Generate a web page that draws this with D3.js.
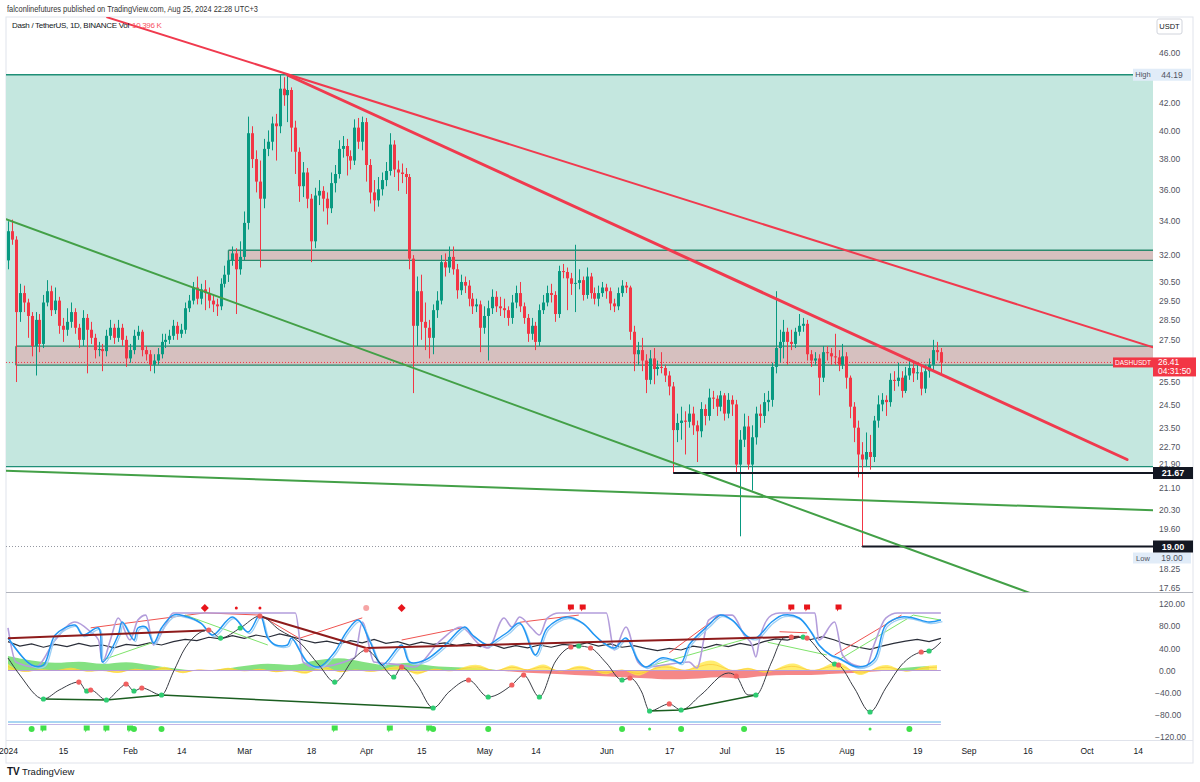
<!DOCTYPE html>
<html><head><meta charset="utf-8">
<script src="https://cdn.jsdelivr.net/npm/d3@7"></script>
<style>
html,body{margin:0;padding:0;background:#fff;}
svg{display:block;font-family:"Liberation Sans",Arial,sans-serif;}
</style></head><body>
<svg id="c" width="1200" height="782"></svg>
<script>
// ---------------- DATA ----------------
// daily candles, day index 0 = 2024-01-01
const firstOpen = 31.7;
const closes = [
33.4,32.9,28.9,29.9,29.4,28.7,27.2,28.5,27.3,29.4,
30.0,29.0,29.5,28.2,28.0,28.4,28.9,28.1,27.5,28.6,
28.0,27.6,27.0,27.05,26.95,27.7,28.1,27.6,28.1,27.5,
26.6,27.0,27.7,27.9,27.0,26.8,26.3,26.5,26.8,27.4,
27.5,27.7,28.2,27.8,28.0,29.1,29.5,30.2,29.6,30.1,
29.9,29.5,29.3,29.2,30.4,30.9,31.7,32.1,31.2,31.9,
33.9,39.8,38.0,36.5,35.4,38.7,39.2,40.5,40.3,43.1,
42.6,43.0,40.2,38.5,36.2,37.1,35.4,32.8,35.6,35.9,
35.4,34.8,36.4,37.0,38.7,38.9,38.2,37.9,40.2,39.2,
40.6,37.6,35.8,35.3,36.0,36.6,37.2,39.0,37.3,37.1,
37.0,36.8,31.8,28.2,30.0,28.4,28.1,27.6,29.0,29.5,
31.6,31.3,31.9,31.2,30.05,30.5,30.3,29.6,29.2,29.3,
28.1,28.7,29.1,29.7,29.2,29.1,29.0,28.6,29.4,29.9,
29.2,28.6,27.8,28.2,27.4,29.0,29.4,29.9,29.8,28.8,
31.1,31.05,30.7,30.4,30.45,30.6,29.8,30.8,29.9,29.6,
29.9,30.2,30.0,29.35,29.2,29.9,30.3,30.2,27.9,26.8,
27.0,26.5,25.6,26.6,26.1,26.2,26.15,25.8,25.3,23.4,
23.7,23.8,23.75,24.1,23.6,23.35,24.3,24.0,24.8,24.75,
24.4,24.9,24.1,24.7,24.5,22.0,23.0,23.55,22.0,23.1,
24.1,24.0,24.6,24.7,26.2,27.1,27.4,27.9,27.4,27.3,
27.9,28.2,28.3,26.8,26.5,26.6,25.7,26.9,26.85,26.7,
26.65,26.3,26.7,25.7,24.4,23.5,22.4,22.2,22.5,22.3,
23.8,24.5,24.7,24.6,25.6,25.55,25.7,25.1,25.8,26.15,
25.9,25.95,25.2,26.0,26.3,27.0,26.9,26.41];
const highs = [
34.0,34.1,33.1,30.4,30.3,29.6,28.9,28.9,28.8,29.8,
30.6,30.3,30.2,29.7,28.6,29.1,29.4,29.1,28.3,29.0,
28.8,28.4,27.8,27.4,27.3,28.0,28.5,28.3,28.5,28.3,
27.7,27.3,28.0,28.2,28.0,27.2,27.0,26.8,27.1,27.8,
27.8,28.0,28.5,28.4,28.3,29.4,29.8,30.5,30.8,30.4,
30.6,30.2,29.8,29.6,30.7,31.4,32.0,32.5,32.4,32.8,
34.6,41.0,40.3,38.6,37.9,39.4,40.0,41.0,41.2,44.19,
44.0,44.15,43.2,40.7,38.8,37.8,37.4,35.7,36.1,36.6,
36.2,35.8,37.1,37.6,39.3,39.6,39.4,38.6,40.8,40.9,
41.0,40.9,38.0,36.6,36.8,37.1,37.8,39.8,39.3,37.9,
37.7,37.4,37.0,32.0,30.8,30.9,29.4,28.5,29.3,30.0,
32.0,32.1,32.5,32.5,31.5,30.9,30.8,30.6,29.9,29.6,
29.5,29.2,29.5,30.1,30.0,29.7,29.6,29.2,29.8,30.3,
30.5,29.4,28.8,28.6,28.4,29.3,29.8,30.3,30.4,30.0,
31.4,31.5,31.3,31.0,32.6,31.2,30.8,31.3,31.0,30.2,
30.3,30.5,30.4,30.2,29.6,30.2,30.6,30.5,30.3,28.2,
27.4,27.6,26.8,27.0,27.1,26.5,26.9,26.3,26.0,25.5,
24.1,24.4,24.2,24.5,24.4,23.8,24.6,24.5,25.2,25.1,
24.9,25.1,25.0,25.0,24.9,24.7,23.4,24.1,24.0,23.6,
24.4,24.5,25.0,25.1,26.4,30.0,28.0,28.5,28.1,28.0,
28.1,28.8,28.6,28.5,27.0,26.9,26.8,27.2,27.2,27.1,
27.8,27.0,27.3,26.9,25.8,24.6,23.8,22.9,23.3,23.2,
24.0,24.9,25.0,24.9,25.9,26.0,26.4,26.0,26.2,26.6,
26.4,26.3,26.2,26.3,26.6,27.5,27.4,27.1];
const lows = [
31.2,32.6,25.5,28.4,28.9,27.6,26.7,25.8,26.9,27.1,
29.2,28.7,28.8,27.8,27.4,27.7,28.1,27.8,27.1,27.2,
25.9,27.3,26.6,26.7,26.0,26.7,27.5,27.3,27.4,27.2,
26.2,26.4,26.8,27.5,26.7,26.5,26.0,25.9,26.3,26.6,
27.1,27.3,27.5,27.5,27.6,27.8,28.9,29.3,29.3,29.3,
29.0,29.1,28.9,28.7,29.0,30.2,30.5,31.4,28.8,30.9,
31.7,33.5,37.4,35.8,31.3,34.8,38.2,38.6,37.9,39.8,
41.8,40.6,38.5,37.0,35.2,35.5,34.8,31.6,32.4,35.0,
34.6,33.8,34.5,35.8,36.7,38.1,36.9,37.3,37.6,38.7,
38.6,36.5,35.1,34.6,34.9,35.6,36.2,36.9,36.8,35.9,
36.4,35.7,31.2,25.0,27.2,27.5,27.0,26.6,26.8,28.6,
29.3,30.8,31.0,30.9,29.6,29.8,29.9,29.2,28.8,28.9,
26.9,27.8,26.5,28.8,28.9,28.7,28.6,28.2,28.3,29.1,
28.9,28.3,27.4,27.5,27.0,27.2,28.8,29.2,29.4,28.4,
28.6,30.7,29.0,29.8,28.9,30.1,29.5,29.6,29.6,29.3,
29.2,29.7,29.6,29.0,28.9,29.0,29.7,29.9,27.5,26.0,
26.3,26.0,25.0,25.4,25.4,25.8,25.9,25.5,24.9,21.67,
22.9,23.0,22.4,23.5,23.2,22.1,23.1,23.6,23.8,24.3,
24.0,24.2,23.8,23.9,24.0,21.67,19.35,22.7,21.8,21.0,
22.8,23.5,23.7,24.2,24.4,25.9,26.4,26.6,26.3,27.0,
27.1,27.7,27.9,26.5,26.2,26.3,24.9,25.5,26.5,26.3,
26.3,26.0,26.1,25.2,23.9,22.9,21.5,19.0,21.9,21.8,
22.1,23.5,24.2,24.0,24.4,25.1,25.3,24.8,25.0,25.6,
25.5,25.6,24.9,25.0,25.7,26.0,26.5,25.9];

const lastPrice = 26.41, highPrice = 44.19, lowPrice = 19.00;
// zones: start day, top price, bottom price
const zoneStart = [-1, 2, 56];
const zoneTop = [44.19, 27.19, 32.28];
const zoneBottom = [21.92, 26.28, 31.70];
// trend lines: [startDay, startPrice, endDay, endPrice]
const trendRedThin  = [25.2, 48.97, 290.9, 27.14];
const trendRedThick = [71.1, 44.15, 284.3, 22.2];
const trendGreenSteep = [-0.5, 34.12, 259.7, 17.48];
const trendGreenFlat  = [-0.5, 21.76, 290.9, 20.27];
// horizontal level rays: start day, price
const rayStart = [169, 217];
const rayPrice = [21.67, 19.00];

const priceTicks = [46,42,40,38,36,34,32,30.5,29.5,28.5,27.5,25.5,24.5,23.5,22.7,21.9,21.1,20.3,19.6,18.25,17.65];
const oscTicks = [120,80,40,0,-40,-80,-120];
const timeTickDates = ["2024-01-01","2024-01-15","2024-02-01","2024-02-14","2024-03-01","2024-03-18","2024-04-01","2024-04-15","2024-05-01","2024-05-14","2024-06-01","2024-06-17","2024-07-01","2024-07-15","2024-08-01","2024-08-19","2024-09-01","2024-09-16","2024-10-01","2024-10-14"];
const timeTickLabels = ["2024","15","Feb","14","Mar","18","Apr","15","May","14","Jun","17","Jul","15","Aug","19","Sep","16","Oct","14"];

// indicator series (day index, value)
const blueI = [0,6,9,12,17,19,23,24,28,29,32,33,35,37,39,42,45,49,52,57,61,64,66,68,71,72,76,79,83,86,89,92,95,100,102,106,111,116,118,122,124,127,130,134,137,142,146,149,151,154,157,160,162,166,169,171,173,178,181,184,188,190,194,197,201,204,206,209,211,216,220,223,227,230,234,237];
const blueV = [58.6,9.9,9.9,64,82,64,76.7,15.3,64,87.5,55,76.7,78.5,49.6,76.7,100,98,85.7,64,96.5,69.5,100,58.6,46,46,58.6,15.3,6.3,33.4,69.5,91,51.4,9.9,46,15.3,18.9,46,78.5,64,46,55,69.5,85.7,28,76.7,96.5,85.7,64,51.4,40.6,58.6,18.9,6.3,22.6,18.9,13.5,46,82,100,91,60.4,58.6,87.5,100,94.7,69.5,46,28,22.6,6.3,18.9,82,96.5,94.7,87.5,91];
const purpleI = [0,2,7,12,17,21,23,24,26,28,31,33,35,37,40,42,73,75,78,88,90,93,100,103,110,115,120,122,126,128,130,133,135,137,140,152,154,157,160,162,173,175,178,181,184,187,189,190,191,194,196,205,206,210,212,215,218,220,223,226,237];
const purpleV = [76.7,15.3,6.3,55,87.5,69.5,55,15.3,55,94.7,55,91,100,46,82,103.8,103.8,15.3,6.3,22.6,87.5,15.3,9.9,6.3,55,78.5,46,40.6,94.7,78.5,96.5,76.7,64,94.7,103.8,103.8,37,78.5,15.3,6.3,15.3,4.5,91,100,100,64,46,24.4,58.6,100,103.8,103.8,55,87.5,28,9.9,6.3,46,94.7,103.8,103.8];
const blackI = d3.range(0, 238, 3);
const blackV = [52,44,48,42,47,43,49,44,46,41,47,45,50,46,52,56,54,60,57,63,58,64,60,66,61,55,50,53,48,54,50,56,49,52,46,51,47,50,45,49,43,47,40,45,41,46,42,47,45,50,44,48,42,45,40,36,40,37,44,41,47,43,49,45,52,57,55,60,56,61,55,47,42,38,44,49,53,56,52,58];
// smooth oscillator with pivot marks (g = green dot, r = red dot)
const oscI = [0,3,9,13,18,20,21,25,28,30,32,34,39,42,45,51,54,59,64,69,74,79,83,88,91,95,98,100,104,108,112,117,122,128,131,135,139,143,145,148,152,156,158,161,163,168,171,176,183,185,188,190,194,197,199,202,203,207,210,211,215,219,223,227,232,234,237];
const oscV = [22.6,-8.1,-51.4,-35.2,-20.8,-37,-35.2,-53.2,-35.2,-24.4,-37,-31.6,-44.2,-2.7,40.6,73.1,58.6,76.7,98.3,73.1,51.4,9.9,-20.8,22.6,37,9.9,-11.7,6.3,-26.2,-67.7,-38.8,-17.1,-47.8,-26.2,-8.1,-47.8,15.3,42.4,44.2,40.6,13.5,-17.1,-13.5,-38.8,-73.1,-60.4,-71.3,-44.2,-4.5,-9.9,-44.2,-44.2,15.3,58.6,60.4,60.4,58.6,28,11.7,9.9,-31.6,-74.9,-31.6,9.9,33.4,35.2,51.4];
const oscMark = ["","","g","","r","g","r","g","","r","g","r","g","","","r","g","g","r","","","","g","","r","","g","r","","g","","r","g","r","r","g","","r","g","r","","g","r","","g","r","g","","","r","","g","","","r","g","r","","g","r","","g","","","r","g",""];
const lowLinkA = [9,25,39,108];
const lowLinkB = [163,171,190];
// trend segments on the oscillator: [d1,v1,d2,v2]
const darkRedSegs = [[0,58,50,72],[64,98,91,40.6],[91,40.6,201,61]];
const lightRedSegs = [[21,77,50,104],[50,104,64,100],[64,100,74,58],[74,58,90,95],[100,55,116,78],[130,87,145,100],[168,32,181,100],[196,70,203,68],[210,28,227,100]];
const lightGreenSegs = [[24,19,37,51],[45,100,66,46],[162,6,188,58],[193,51,208,28],[211,19,230,100],[230,100,237,91]];
// trend fill (every 6 days)
const fillI = d3.range(0, 235, 6);
const fillV = [26,18,14,16,12,15,10,4,0,2,8,12,10,18,22,16,10,14,8,6,4,-1,-4,-6,-8,-10,-12,-14,-16,-15,-12,-14,-10,-8,-8,-6,-4,-1,5,8];
// yellow wave (every 4 days)
const yellowI = d3.range(0, 237, 4);
const yellowV = [12,-8,6,-4,10,-6,4,-10,8,-5,14,-12,6,-4,10,-6,8,-8,5,-14,18,-10,6,-6,4,12,-16,10,-6,8,14,-8,18,-6,20,-10,12,6,-14,10,-18,8,14,-6,16,22,-8,12,-10,6,18,-6,10,20,-18,6,14,-8,8,10];
// signal markers
const topMarkI = [50,58,64,91,100,143,146,199,203,211];
const topMarkT = ["diamond","dot","dot","circle","diamond","flag","flag","flag","flag","flag"];
const botMarkI = [6,9,20,25,31,32,39,83,97,107,108,122,156,163,171,187,219,229];
const botMarkT = ["circle","flag","flag","flag","flag","circle","circle","flag","flag","flag","circle","circle","circle","dot","circle","circle","dot","circle"];

// ---------------- DRAW ----------------
const svg = d3.select('#c');
const DAY = 864e5, T0 = Date.UTC(2024,0,1);
const dt = i => new Date(T0 + i*DAY);
const x = d3.scaleUtc().domain([new Date(Date.UTC(2024,0,1)), new Date(Date.UTC(2024,9,14))]).range([8,1137.7]);
const y = d3.scaleLog().domain([46,17.65]).range([52.3,587.7]);
const yo = d3.scaleLinear().domain([-120,120]).range([737,604]);
const X = i => x(dt(i));

const PL=6, PR=1153, PT=17, PB=592, IT=594, IB=740, AR=1193;
const UP='#089981', DN='#f23645', RED='#f03a4e', GRN='#43a047';

svg.append('rect').attr('width',1200).attr('height',782).attr('fill','#fff');
const defs = svg.append('defs');
defs.append('clipPath').attr('id','pclip').append('rect').attr('x',PL).attr('y',PT).attr('width',PR-PL).attr('height',PB-PT);
defs.append('clipPath').attr('id','iclip').append('rect').attr('x',PL).attr('y',IT).attr('width',PR-PL).attr('height',IB-IT);
defs.append('clipPath').attr('id','tclip').append('rect').attr('x',PL-6).attr('y',IB).attr('width',AR-PL+6).attr('height',24);

// header
svg.append('text').attr('x',7).attr('y',12).attr('font-size',9.5).attr('fill','#333')
  .attr('textLength',251).attr('lengthAdjust','spacingAndGlyphs')
  .text('falconlinefutures published on TradingView.com, Aug 25, 2024 22:28 UTC+3');

// frame
svg.append('rect').attr('x',PL).attr('y',PT).attr('width',AR-PL).attr('height',763-PT)
  .attr('fill','none').attr('stroke','#e0e3eb');

const pg = svg.append('g').attr('clip-path','url(#pclip)');
// zones
const zoneFill = ['#c4e7df','#d6c0bf','#d6c0bf'];
const zoneStroke = ['#1f8f77','#2a8a6e','#2a8a6e'];
zoneStart.forEach((d,k)=>{
  const x0 = X(d), y0 = y(zoneTop[k]), y1 = y(zoneBottom[k]);
  pg.append('rect').attr('x',x0).attr('y',y0).attr('width',PR-x0).attr('height',y1-y0).attr('fill',zoneFill[k]);
  pg.append('line').attr('x1',x0).attr('x2',PR).attr('y1',y0).attr('y2',y0).attr('stroke',zoneStroke[k]).attr('stroke-width',1.3);
  pg.append('line').attr('x1',x0).attr('x2',PR).attr('y1',y1).attr('y2',y1).attr('stroke',zoneStroke[k]).attr('stroke-width',1.3);
  if(k>0) pg.append('line').attr('x1',x0).attr('x2',x0).attr('y1',y0).attr('y2',y1).attr('stroke',zoneStroke[k]).attr('stroke-width',1.3);
});
// dotted low line & last price line
pg.append('line').attr('x1',PL).attr('x2',X(217)).attr('y1',y(lowPrice)).attr('y2',y(lowPrice))
  .attr('stroke','#9598a1').attr('stroke-dasharray','1,2');
pg.append('line').attr('x1',PL).attr('x2',1112).attr('y1',y(lastPrice)).attr('y2',y(lastPrice))
  .attr('stroke',DN).attr('stroke-dasharray','1,2');

// candles
const candles = closes.map((c,i)=>({i, o: i? closes[i-1] : firstOpen, c, h: highs[i], l: lows[i]}));
pg.append('g').selectAll('line').data(candles).join('line')
  .attr('x1',d=>Math.round(X(d.i))+0.5).attr('x2',d=>Math.round(X(d.i))+0.5)
  .attr('y1',d=>y(d.h)).attr('y2',d=>y(d.l))
  .attr('stroke',d=>d.c>=d.o?UP:DN).attr('stroke-width',1);
pg.append('g').selectAll('rect').data(candles).join('rect')
  .attr('x',d=>Math.round(X(d.i))-1).attr('width',3)
  .attr('y',d=>y(Math.max(d.o,d.c)))
  .attr('height',d=>Math.max(1,Math.abs(y(d.o)-y(d.c))))
  .attr('fill',d=>d.c>=d.o?UP:DN);

// horizontal rays
rayStart.forEach((d,k)=>{
  pg.append('line').attr('x1',X(d)).attr('x2',PR).attr('y1',y(rayPrice[k])).attr('y2',y(rayPrice[k]))
    .attr('stroke','#131722').attr('stroke-width',2);
});
// trend lines
function tl(a, color, w){
  pg.append('line').attr('x1',X(a[0])).attr('y1',y(a[1])).attr('x2',X(a[2])).attr('y2',y(a[3]))
    .attr('stroke',color).attr('stroke-width',w).attr('stroke-linecap','round');
}
tl(trendGreenSteep, GRN, 2);
tl(trendGreenFlat, GRN, 2);
tl(trendRedThin, RED, 2);
tl(trendRedThick, RED, 3);

// legend (natural widths, second part placed after the first)
const lg1 = svg.append('text').attr('x',12).attr('y',28).attr('font-size',8).attr('letter-spacing','-0.3px')
  .attr('fill','#131722').text('Dash / TetherUS, 1D, BINANCE  Vol');
const lgW = lg1.node().getComputedTextLength();
svg.append('text').attr('x',12 + lgW + 3).attr('y',28).attr('font-size',8).attr('letter-spacing','-0.3px')
  .attr('fill','#f7525f').text('10.396 K');

// price axis
const pax = svg.append('g').attr('transform',`translate(${PR},0)`)
  .call(d3.axisRight(y).tickValues(priceTicks).tickFormat(d3.format('.2f')).tickSize(0).tickPadding(6));
pax.select('.domain').remove();
pax.selectAll('text').attr('font-size',8.5).attr('fill','#50535e').attr('font-family','"Liberation Sans",Arial,sans-serif')
  .attr('dy', v => v===21.9 ? '-0.05em' : '0.32em');

// special labels
function box(x0,yc,w,h,fill,txt,tc,fs,bold){
  svg.append('rect').attr('x',x0).attr('y',yc-h/2).attr('width',w).attr('height',h).attr('fill',fill);
  const t = svg.append('text').attr('x',x0+w/2).attr('y',yc).attr('dy','0.35em').attr('text-anchor','middle')
    .attr('font-size',fs).attr('fill',tc).attr('font-weight',bold?'bold':'normal').text(txt);
  return t;
}
box(1133,y(highPrice),20,12,'#e1ecf8','High','#50535e',7.5);
box(PR,y(highPrice),38,12,'#e1ecf8',d3.format('.2f')(highPrice),'#50535e',8.5);
box(1133,y(lowPrice)+11.5,20,11,'#e1ecf8','Low','#50535e',7.5);
box(PR,y(lowPrice)+11.5,38,11,'#e1ecf8',d3.format('.2f')(lowPrice),'#50535e',8.5);
box(PR,y(rayPrice[0]),40,12,'#131722',d3.format('.2f')(rayPrice[0]),'#fff',9,true);
box(PR,y(rayPrice[1]),40,12,'#131722',d3.format('.2f')(rayPrice[1]),'#fff',9,true);
box(1113,y(lastPrice),40,10,DN,'DASHUSDT','#fff',7.5).attr('textLength',36).attr('lengthAdjust','spacingAndGlyphs');
svg.append('rect').attr('x',PR).attr('y',y(lastPrice)-5).attr('width',43).attr('height',19).attr('fill',DN);
svg.append('text').attr('x',PR+5).attr('y',y(lastPrice)).attr('dy','0.35em').attr('font-size',8.5).attr('fill','#fff').text(d3.format('.2f')(lastPrice));
svg.append('text').attr('x',PR+5).attr('y',y(lastPrice)+9).attr('dy','0.35em').attr('font-size',8.5).attr('fill','#fff').text('04:31:50');
// USDT box
svg.append('rect').attr('x',1157).attr('y',19).attr('width',25).attr('height',15).attr('rx',2).attr('fill','#fff').attr('stroke','#d1d4dc');
svg.append('text').attr('x',1169.5).attr('y',26.5).attr('dy','0.35em').attr('text-anchor','middle').attr('font-size',7.5).attr('fill','#131722').text('USDT');

// pane separator
svg.append('line').attr('x1',PL).attr('x2',AR).attr('y1',PB+0.5).attr('y2',PB+0.5).attr('stroke','#b2b5be');

// ---------------- indicator ----------------
const ig = svg.append('g').attr('clip-path','url(#iclip)');
const fillPts = fillI.map((d,k)=>({d, v: fillV[k]}));
ig.append('path').datum(fillPts).attr('fill','#6fdc6c').attr('opacity',0.85)
  .attr('d', d3.area().curve(d3.curveMonotoneX).x(p=>X(p.d)).y0(yo(0)).y1(p=>yo(Math.max(0,p.v))));
ig.append('path').datum(fillPts).attr('fill','#f47a7a').attr('opacity',0.9)
  .attr('d', d3.area().curve(d3.curveMonotoneX).x(p=>X(p.d)).y0(yo(0)).y1(p=>yo(Math.min(0,p.v))));
const yelPts = yellowI.map((d,k)=>({d, v: yellowV[k]}));
ig.append('path').datum(yelPts).attr('fill','#ffe94a').attr('opacity',0.8)
  .attr('d', d3.area().curve(d3.curveBasis).x(p=>X(p.d)).y0(yo(0)).y1(p=>yo(p.v)));
ig.append('path').datum(yelPts).attr('fill','none').attr('stroke','#fbc02d').attr('stroke-width',0.8).attr('opacity',0.8)
  .attr('d', d3.line().curve(d3.curveBasis).x(p=>X(p.d)).y(p=>yo(p.v*0.6)));
ig.append('line').attr('x1',X(0)).attr('x2',X(237)).attr('y1',yo(0)).attr('y2',yo(0)).attr('stroke','#b79ad6').attr('stroke-width',1);

// band near bottom
ig.append('line').attr('x1',X(0)).attr('x2',X(237)).attr('y1',722).attr('y2',722).attr('stroke','#a9d6f2').attr('stroke-width',2);
ig.append('line').attr('x1',X(0)).attr('x2',X(237)).attr('y1',724.5).attr('y2',724.5).attr('stroke','#c3b6e6').attr('stroke-width',1.2);

const line = d3.line().x(p=>X(p.d)).y(p=>yo(p.v));
const segs = (arr, color, w) => ig.append('g').selectAll('line').data(arr).join('line')
  .attr('x1',s=>X(s[0])).attr('y1',s=>yo(s[1])).attr('x2',s=>X(s[2])).attr('y2',s=>yo(s[3]))
  .attr('stroke',color).attr('stroke-width',w);

// black jagged
ig.append('path').datum(blackI.map((d,k)=>({d,v:blackV[k]}))).attr('fill','none').attr('stroke','#2a2e39').attr('stroke-width',1.2)
  .attr('d', line.curve(d3.curveLinear));
segs(lightRedSegs,'#ef5350',1);
segs(lightGreenSegs,'#7ee36a',1);
// purple
ig.append('path').datum(purpleI.map((d,k)=>({d,v:purpleV[k]}))).attr('fill','none').attr('stroke','#b39ddb').attr('stroke-width',1.6)
  .attr('d', d3.line().curve(d3.curveMonotoneX).x(p=>X(p.d)).y(p=>yo(p.v)));
// blue (two tones)
const bluePts = blueI.map((d,k)=>({d,v:blueV[k]}));
ig.append('path').datum(bluePts).attr('fill','none').attr('stroke','#9ccff5').attr('stroke-width',1.3)
  .attr('transform','translate(1.5,1.5)')
  .attr('d', d3.line().curve(d3.curveCatmullRom).x(p=>X(p.d)).y(p=>yo(p.v)));
ig.append('path').datum(bluePts).attr('fill','none').attr('stroke','#2196f3').attr('stroke-width',1.5)
  .attr('d', d3.line().curve(d3.curveCatmullRom).x(p=>X(p.d)).y(p=>yo(p.v)));
segs(darkRedSegs,'#8e1b1b',2);
// smooth oscillator
const oscPts = oscI.map((d,k)=>({d,v:oscV[k],m:oscMark[k]}));
ig.append('path').datum(oscPts).attr('fill','none').attr('stroke','#3a3d45').attr('stroke-width',1)
  .attr('d', d3.line().curve(d3.curveMonotoneX).x(p=>X(p.d)).y(p=>yo(p.v)));
const oscAt = d => oscPts.find(p=>p.d===d);
[lowLinkA, lowLinkB].forEach(arr=>{
  ig.append('path').datum(arr.map(oscAt)).attr('fill','none').attr('stroke','#1b5e20').attr('stroke-width',1.5)
    .attr('d', d3.line().x(p=>X(p.d)).y(p=>yo(p.v)));
});
ig.append('g').selectAll('circle').data(oscPts.filter(p=>p.m)).join('circle')
  .attr('cx',p=>X(p.d)).attr('cy',p=>yo(p.v)).attr('r',2.6)
  .attr('fill',p=>p.m==='g'?'#2ecc71':'#f06060');

// markers
function marker(g, type, cx, cy, color){
  if(type==='dot') g.append('circle').attr('cx',cx).attr('cy',cy).attr('r',1.5).attr('fill',color);
  else if(type==='circle') g.append('circle').attr('cx',cx).attr('cy',cy).attr('r',3).attr('fill',color);
  else if(type==='diamond') g.append('path').attr('d',`M${cx},${cy-4}L${cx+4},${cy}L${cx},${cy+4}L${cx-4},${cy}Z`).attr('fill',color);
  else if(type==='flag') g.append('path').attr('d',`M${cx-3},${cy-3.5}h6v5h-3l-1.5,2v-2h-1.5Z`).attr('fill',color);
}
const mg = svg.append('g');
topMarkI.forEach((d,k)=>marker(mg, topMarkT[k], X(d), 608, topMarkT[k]==='circle'?'#f6a5a5':'#e8151b'));
botMarkI.forEach((d,k)=>marker(mg, botMarkT[k], X(d), 729, '#41e04a'));

// oscillator axis
const oax = svg.append('g').attr('transform',`translate(${PR},0)`)
  .call(d3.axisRight(yo).tickValues(oscTicks).tickFormat(v=>d3.format('.2f')(v).replace('-','\u2212')).tickSize(0).tickPadding(6));
oax.select('.domain').remove();
oax.selectAll('text').attr('font-size',8.5).attr('fill','#50535e').attr('font-family','"Liberation Sans",Arial,sans-serif')
  .attr('dx',v=>v<0?-4:0);

// time axis
svg.append('line').attr('x1',PL).attr('x2',AR).attr('y1',IB+0.5).attr('y2',IB+0.5).attr('stroke','#e0e3eb');
const tDates = timeTickDates.map(s=>new Date(s+'T00:00:00Z'));
const tax = svg.append('g').attr('clip-path','url(#tclip)').append('g').attr('transform',`translate(0,${IB})`)
  .call(d3.axisBottom(x).tickValues(tDates).tickFormat((d,k)=>timeTickLabels[k]).tickSize(0).tickPadding(8));
tax.select('.domain').remove();
tax.selectAll('text').attr('font-size',8.5).attr('fill','#131722').attr('font-family','"Liberation Sans",Arial,sans-serif');

// footer logo
svg.append('text').attr('x',7).attr('y',775).attr('font-size',10).attr('font-weight','900').attr('fill','#131722').text('TV');
svg.append('text').attr('x',22).attr('y',775).attr('font-size',9.5).attr('fill','#131722').text('TradingView');
</script>
</body></html>
